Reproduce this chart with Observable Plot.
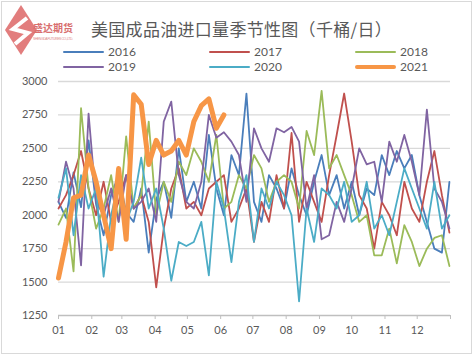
<!DOCTYPE html>
<html><head><meta charset="utf-8">
<script src="https://cdn.jsdelivr.net/npm/d3@7"></script>
<script src="https://cdn.jsdelivr.net/npm/@observablehq/plot@0.6"></script>
<style>
html,body{margin:0;padding:0;background:#fff;}
#wrap{position:relative;width:474px;height:356px;overflow:hidden;background:#fff;font-family:Lato,"Noto Sans",sans-serif;}
#frame{position:absolute;left:1px;top:1px;width:469px;height:351px;border:1.5px solid #d9d9d9;pointer-events:none;}
#title{position:absolute;left:91px;top:18px;font-family:"Noto Sans CJK SC",sans-serif;font-size:17px;line-height:22px;color:#595959;white-space:nowrap;letter-spacing:0.3px;}
.lg{position:absolute;font-size:12px;color:#595959;line-height:14px;white-space:nowrap;}
.sw{position:absolute;height:2px;}
#chart{position:absolute;left:0;top:72px;}
#logo{position:absolute;left:2px;top:3px;}
</style></head>
<body>
<div id="wrap">
  <svg id="logo" width="80" height="56" viewBox="0 0 80 56">
    <polygon points="19,2 35,27 19,52 3,27" fill="#e27d7d"/>
    <path d="M25,15 L11,26 L26,30 L13,41" fill="none" stroke="#fff" stroke-width="4" stroke-linejoin="miter"/>
    <text x="31" y="29" font-family="Noto Sans CJK SC" font-size="10" font-weight="bold" fill="#d86f6f" textLength="40">盛达期货</text>
    <text x="31" y="37" font-family="Liberation Sans" font-size="3.4" fill="#d88" textLength="40">SHENGDA FUTURES CO.,LTD.</text>
  </svg>
  <div id="title">美国成品油进口量季节性图（千桶/日）</div>
  <div id="legend"></div>
  <div id="chart"></div>
  <div id="frame"></div>
</div>
<script>
// ---- data (weekly, thousand barrels/day) ----
const years = ["2016", "2017", "2018", "2019", "2020", "2021"];
const colors = ["#4a7ebb", "#c0504d", "#9bbb59", "#8064a2", "#4bacc6", "#f79646"];
const v2016 = [2100,1980,2320,2060,2560,2080,1850,2150,2300,2020,1950,2200,1720,2120,2250,1980,2500,2100,2250,2050,2600,2200,2000,2450,2300,2910,2100,1950,2300,2200,2050,2350,2150,2000,2250,2450,2150,2300,2050,2250,2000,2200,2150,2450,2300,2480,2350,2450,2150,1950,1750,1720,2250];
const v2017 = [2050,2150,2300,2480,2200,2000,2250,1950,2100,2300,2050,2150,1950,1460,1900,2200,2350,2050,2100,2000,2200,2250,2300,1950,2050,2200,1800,2100,1950,2300,2050,2615,1950,2250,2100,1950,2300,2600,2910,2550,2150,2050,1750,2100,2000,1850,2250,2050,1950,2250,2480,2150,1870];
const v2018 = [1930,2050,1580,2800,2200,1900,2050,2300,1950,2590,2050,2150,2700,2000,2250,2100,2400,2300,2500,2400,2250,2600,2050,2100,2300,2200,2450,2350,2100,2250,2300,2250,2050,2630,2450,2930,2350,2450,2300,2150,1950,2000,1700,1700,1900,1640,1925,1800,1620,1750,1830,1850,1620];
const v2019 = [2100,2400,2200,1625,2760,2100,2000,2200,1950,2300,2050,2100,2200,1950,2700,2850,2300,2100,2050,2250,2750,2580,2620,2550,2450,2100,2650,2500,2400,2650,2620,2660,2550,2050,2300,1820,1850,2100,1950,2200,2500,2380,2400,2100,2550,2400,2600,2400,2150,2790,2200,2100,1900];
const v2020 = [2130,2350,1850,2300,2050,2200,1540,2000,2250,1950,2100,2430,2050,2200,1900,1510,1800,1770,1800,1950,1550,2250,2050,1650,2100,2300,1800,2200,2050,2250,2150,2000,1355,2050,1800,2200,2150,2050,2250,1950,2000,2250,1900,2000,1850,2100,2350,2200,2050,1900,2250,1900,2000];
const v2021 = [1530,1800,2130,2150,2450,2250,2000,1750,2350,1820,2900,2830,2380,2560,2450,2480,2560,2450,2700,2820,2870,2650,2750];
const monthLabels = ["01","02","03","04","05","06","07","08","09","10","11","12"];
const monthStartDays = [0,31,59,90,120,151,181,212,243,273,304,334,365];
const yTicks = [1250,1500,1750,2000,2250,2500,2750,3000];

const seriesValues = [v2016, v2017, v2018, v2019, v2020, v2021];
const rows = [];
seriesValues.forEach((arr, s) => arr.forEach((v, i) => rows.push({year: years[s], day: i * 7, value: v})));
const thin = rows.filter(d => d.year !== "2021");
const thick = rows.filter(d => d.year === "2021");

// ---- legend (HTML) ----
const legend = document.getElementById("legend");
const cols = [63, 209, 355], rowsY = [52, 67];
years.forEach((y, i) => {
  const cx = cols[i % 3], cy = rowsY[Math.floor(i / 3)];
  const sw = document.createElement("div");
  sw.className = "sw";
  const h = y === "2021" ? 4 : 2;
  sw.style.cssText = `left:${cx}px;top:${cy - h/2}px;width:41px;height:${h}px;background:${colors[i]};border-radius:${h/2}px;`;
  legend.appendChild(sw);
  const t = document.createElement("div");
  t.className = "lg";
  t.style.left = (cx + 45) + "px";
  t.style.top = (cy - 7) + "px";
  t.textContent = y;
  legend.appendChild(t);
});

// ---- chart ----
const plot = Plot.plot({
  width: 474,
  height: 284,
  marginTop: 9,
  marginBottom: 41,
  marginLeft: 58,
  marginRight: 24,
  style: {fontFamily: "Lato, 'Noto Sans', sans-serif", fontSize: "11px", color: "#595959", background: "transparent"},
  x: {domain: [0, 365], axis: null},
  y: {domain: [1250, 3000], axis: null},
  color: {domain: years, range: colors},
  marks: [
    Plot.ruleY(yTicks.filter(t => t > 1250), {stroke: "#d9d9d9", strokeWidth: 1.3}),
    Plot.ruleY([1250], {stroke: "#bfbfbf", strokeWidth: 1.3}),
    Plot.axisY(yTicks, {label: null, tickSize: 0, tickPadding: 11, tickFormat: d => String(d), fill: "#595959", fontSize: 11}),
    Plot.axisX(monthStartDays, {label: null, tickSize: 4, tickPadding: 7, stroke: "#bfbfbf", fill: "#595959", fontSize: 11,
      tickFormat: d => monthLabels[monthStartDays.indexOf(d)] ?? ""}),
    Plot.line(thin, {x: "day", y: "value", z: "year", stroke: "year", strokeWidth: 1.8, strokeLinejoin: "round"}),
    Plot.line(thick, {x: "day", y: "value", z: "year", stroke: "year", strokeWidth: 5, strokeLinejoin: "round", strokeLinecap: "round"})
  ]
});
document.getElementById("chart").appendChild(plot);
</script>
</body></html>
